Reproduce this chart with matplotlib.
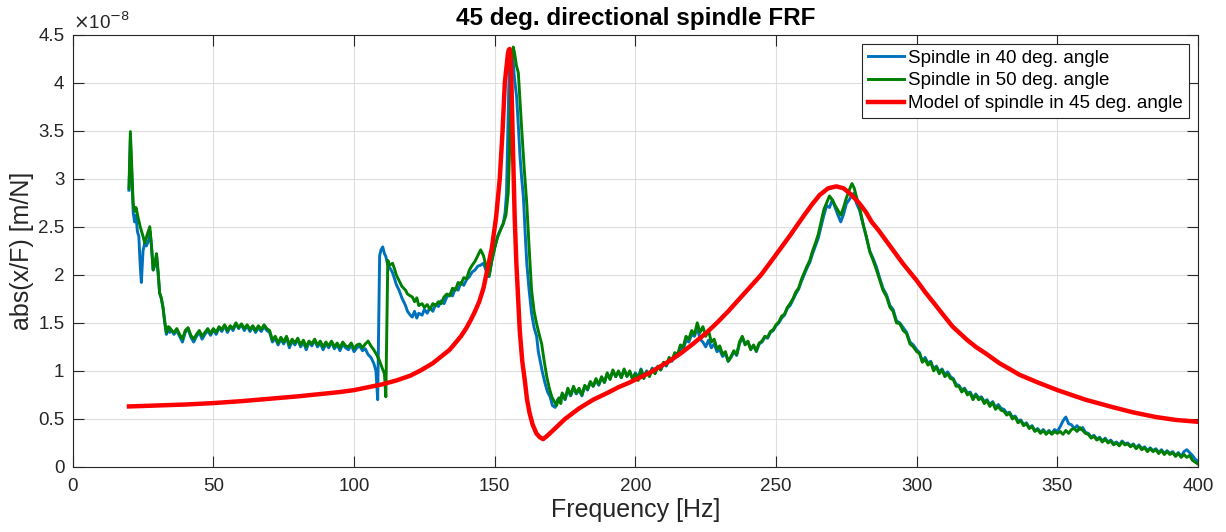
import numpy as np
import matplotlib
matplotlib.use("Agg")
import matplotlib.pyplot as plt
from matplotlib.ticker import FuncFormatter, MultipleLocator

plt.rcParams['font.family'] = ['Liberation Sans', 'DejaVu Sans']

# magnitudes below are in units of 1e-8 m/N (the axis carries the x10^-8 factor)

# spindle measured in 40 deg. angle
freq_40 = ([20, 20.5, 21, 21.5, 22, 22.5, 23, 23.5, 24, 24.4, 25, 25.6, 26.2, 27,
            27.5, 28, 28.6, 29.2, 29.8, 30.4, 30.9, 31.5, 32.1, 32.7, 33.3, 34, 34.5, 35]
           + list(range(36, 108))
           + [107.8, 108.4, 108.8, 109.1, 109.6, 110.2, 110.8, 111.3, 112, 113, 113.7,
              114.5, 115, 116, 117, 118.3, 119, 120, 120.7, 121.5, 122.3, 123, 124.2]
           + list(range(125, 149))
           + [149, 150, 151, 152, 153, 153.7, 154.2, 154.6, 155, 155.4, 156, 156.5, 157,
              157.8, 158.4, 159, 159.6, 160.2, 160.8, 161.4, 162.2, 163.1, 164, 164.9,
              165.5, 166.1, 167, 167.9, 168.8, 169.7, 170.5, 171.5, 172.3, 173]
           + list(range(174, 278))
           + [277.8, 278.5, 279.7, 281, 282.1, 283.3, 284.5, 285.7, 286.9, 288, 289.3,
              290.5, 291.6, 292.8, 294, 295.2, 296.4, 297.6, 298.8]
           + list(range(300, 401)))
mag_40 = [2.88, 3.40, 3.05, 2.65, 2.55, 2.62, 2.45, 2.40, 2.10, 1.92, 2.25, 2.33, 2.30, 2.36,
          2.45, 2.30, 2.05, 2.10, 2.20, 2.00, 1.81, 1.75, 1.66, 1.50, 1.38, 1.44, 1.40, 1.43,
          # 36 .. 107
          1.38, 1.42, 1.36, 1.30, 1.40, 1.44, 1.35, 1.30, 1.36, 1.40,
          1.33, 1.38, 1.42, 1.37, 1.43, 1.38, 1.45, 1.41, 1.47, 1.40,
          1.46, 1.42, 1.49, 1.44, 1.48, 1.42, 1.47, 1.41, 1.46, 1.40,
          1.45, 1.41, 1.46, 1.42, 1.40, 1.30, 1.34, 1.27, 1.33, 1.28,
          1.35, 1.24, 1.31, 1.27, 1.33, 1.25, 1.30, 1.22, 1.30, 1.26,
          1.32, 1.25, 1.29, 1.22, 1.28, 1.24, 1.30, 1.23, 1.27, 1.21,
          1.28, 1.24, 1.22, 1.27, 1.20, 1.24, 1.26, 1.21, 1.23, 1.17,
          1.14, 1.08,
          # jump near 109 Hz
          1.00, 0.70, 1.60, 2.20, 2.26, 2.29, 2.22, 2.19, 2.10, 2.06, 2.02,
          1.95, 1.90, 1.84, 1.76, 1.68, 1.62, 1.58, 1.56, 1.62, 1.55, 1.60, 1.58,
          # 125 .. 148
          1.64, 1.60, 1.66, 1.62, 1.69, 1.67, 1.73, 1.70, 1.77, 1.80, 1.78, 1.86,
          1.84, 1.92, 1.89, 1.95, 1.98, 2.03, 2.05, 2.09, 2.10, 2.12, 2.04, 1.98,
          # main peak
          2.15, 2.28, 2.40, 2.47, 2.53, 2.65, 2.85, 3.40, 3.95, 4.25, 4.34, 4.25, 4.05,
          3.85, 3.55, 3.23, 3.00, 2.81, 2.45, 2.12, 1.85, 1.60, 1.45, 1.36,
          1.20, 1.11, 0.98, 0.87, 0.78, 0.73, 0.64, 0.62, 0.70, 0.68,
          # 174 .. 277
          0.76, 0.70, 0.80, 0.74, 0.82, 0.76, 0.80, 0.74, 0.84, 0.80,
          0.88, 0.84, 0.90, 0.85, 0.93, 0.88, 0.97, 0.92, 1.00, 0.94,
          0.99, 0.93, 1.01, 0.95, 0.99, 0.92, 0.98, 0.93, 1.02, 0.94,
          1.00, 0.96, 1.03, 0.98, 1.04, 1.01, 1.08, 1.05, 1.12, 1.10,
          1.17, 1.15, 1.24, 1.22, 1.32, 1.30, 1.38, 1.36, 1.45, 1.33,
          1.30, 1.25, 1.32, 1.24, 1.28, 1.20, 1.22, 1.15, 1.18, 1.10,
          1.14, 1.20, 1.16, 1.28, 1.35, 1.28, 1.30, 1.23, 1.26, 1.20,
          1.28, 1.30, 1.35, 1.34, 1.40, 1.42, 1.47, 1.50, 1.55, 1.58,
          1.65, 1.68, 1.74, 1.80, 1.85, 1.93, 2.00, 2.07, 2.13, 2.22,
          2.30, 2.38, 2.50, 2.62, 2.72, 2.70, 2.78, 2.70, 2.62, 2.55,
          2.63, 2.74, 2.78, 2.83,
          # second peak decay
          2.85, 2.75, 2.67, 2.52, 2.39, 2.25, 2.17, 2.08, 1.96, 1.86, 1.79,
          1.68, 1.64, 1.52, 1.50, 1.45, 1.40, 1.30, 1.27,
          # 300 .. 400
          1.22, 1.19, 1.10, 1.14, 1.08, 1.10, 1.02, 1.05, 0.99, 1.02,
          0.96, 0.99, 0.94, 0.92, 0.86, 0.85, 0.80, 0.82, 0.77, 0.78,
          0.72, 0.76, 0.72, 0.73, 0.68, 0.70, 0.65, 0.68, 0.62, 0.65,
          0.61, 0.60, 0.56, 0.57, 0.52, 0.53, 0.48, 0.49, 0.44, 0.46,
          0.41, 0.43, 0.38, 0.40, 0.36, 0.39, 0.35, 0.38, 0.35, 0.39,
          0.37, 0.42, 0.48, 0.52, 0.45, 0.44, 0.40, 0.43, 0.39, 0.41,
          0.36, 0.35, 0.31, 0.33, 0.29, 0.31, 0.27, 0.30, 0.26, 0.28,
          0.24, 0.26, 0.23, 0.27, 0.24, 0.25, 0.22, 0.24, 0.20, 0.23,
          0.19, 0.21, 0.17, 0.20, 0.17, 0.19, 0.15, 0.18, 0.14, 0.17,
          0.14, 0.16, 0.12, 0.15, 0.11, 0.16, 0.18, 0.15, 0.12, 0.08,
          0.06]

# spindle measured in 50 deg. angle
freq_50 = ([20, 20.5, 21, 21.5, 22, 22.5, 23.2, 24, 24.4, 25, 25.6, 26.5, 27.4, 28,
            28.6, 29.2, 29.8, 30.4, 30.9, 31.5, 32.1, 32.7, 33.3, 34, 34.5, 35]
           + list(range(36, 110))
           + [110, 110.8, 111.3, 111.7, 112, 112.6, 113.7, 114.5, 115, 116, 117, 118.3,
              119, 120, 120.7, 121.5, 122.3, 123, 124.2]
           + list(range(125, 149))
           + [149, 150, 151, 152, 153, 154, 154.8, 155.3, 155.7, 156.1, 156.6, 157.1,
              157.7, 158.4, 159, 159.6, 160.5, 161.4, 162.2, 163.1, 164, 164.9, 165.8,
              166.7, 167.6, 168.5, 169.4, 170.3, 171.2, 172, 172.8, 173.5]
           + list(range(174, 278))
           + [277.8, 278.5, 279.7, 281, 282.1, 283.3, 284.5, 285.7, 286.9, 288, 289.3,
              290.5, 291.6, 292.8, 294, 295.2, 296.4, 297.6, 298.8]
           + list(range(300, 401)))
mag_50 = [2.90, 3.49, 3.10, 2.74, 2.66, 2.70, 2.60, 2.50, 2.46, 2.40, 2.33, 2.42, 2.50, 2.30,
          2.05, 2.12, 2.22, 2.02, 1.81, 1.76, 1.66, 1.52, 1.40, 1.46, 1.45, 1.42,
          # 36 .. 109
          1.40, 1.44, 1.38, 1.33, 1.42, 1.45, 1.37, 1.33, 1.38, 1.42,
          1.36, 1.40, 1.44, 1.39, 1.44, 1.40, 1.46, 1.43, 1.48, 1.42,
          1.47, 1.44, 1.50, 1.45, 1.49, 1.44, 1.48, 1.43, 1.47, 1.42,
          1.47, 1.43, 1.48, 1.44, 1.42, 1.32, 1.36, 1.29, 1.35, 1.30,
          1.36, 1.27, 1.33, 1.29, 1.34, 1.27, 1.32, 1.25, 1.31, 1.28,
          1.33, 1.27, 1.31, 1.25, 1.30, 1.26, 1.31, 1.25, 1.29, 1.24,
          1.30, 1.26, 1.25, 1.29, 1.23, 1.27, 1.28, 1.24, 1.28, 1.31,
          1.26, 1.22, 1.17, 1.11,
          # jump near 111 Hz
          1.03, 0.97, 0.73, 1.50, 2.15, 2.10, 2.12, 2.05, 2.00, 1.94, 1.88, 1.84,
          1.80, 1.78, 1.77, 1.72, 1.76, 1.68, 1.70,
          # 125 .. 148
          1.66, 1.69, 1.64, 1.70, 1.68, 1.72, 1.70, 1.77, 1.80, 1.78, 1.86, 1.84,
          1.92, 1.90, 1.97, 1.96, 2.05, 2.10, 2.14, 2.20, 2.26, 2.20, 2.08, 1.99,
          # main peak
          2.15, 2.28, 2.39, 2.46, 2.53, 2.62, 2.85, 3.30, 3.90, 4.25, 4.37, 4.30,
          4.18, 4.10, 3.80, 3.51, 3.10, 2.74, 2.30, 1.84, 1.62, 1.49, 1.38,
          1.28, 1.10, 0.94, 0.82, 0.73, 0.68, 0.64, 0.72, 0.66,
          # 174 .. 277
          0.77, 0.71, 0.82, 0.75, 0.84, 0.77, 0.82, 0.75, 0.85, 0.81,
          0.89, 0.84, 0.92, 0.86, 0.94, 0.88, 0.98, 0.91, 1.01, 0.94,
          1.00, 0.93, 1.02, 0.94, 1.00, 0.91, 0.97, 0.90, 1.01, 0.92,
          0.99, 0.94, 1.02, 0.97, 1.05, 1.01, 1.09, 1.06, 1.14, 1.11,
          1.19, 1.17, 1.27, 1.25, 1.36, 1.33, 1.42, 1.38, 1.50, 1.40,
          1.46, 1.36, 1.42, 1.30, 1.33, 1.23, 1.26, 1.17, 1.20, 1.10,
          1.15, 1.21, 1.17, 1.30, 1.36, 1.27, 1.31, 1.22, 1.27, 1.21,
          1.29, 1.31, 1.36, 1.35, 1.41, 1.43, 1.48, 1.51, 1.57, 1.59,
          1.66, 1.70, 1.75, 1.82, 1.86, 1.95, 2.02, 2.09, 2.15, 2.25,
          2.33, 2.42, 2.55, 2.68, 2.75, 2.82, 2.78, 2.72, 2.67, 2.62,
          2.70, 2.80, 2.88, 2.95,
          # second peak decay
          2.90, 2.82, 2.70, 2.52, 2.40, 2.24, 2.15, 2.05, 1.94, 1.84, 1.77,
          1.66, 1.62, 1.50, 1.49, 1.42, 1.39, 1.28, 1.25,
          # 300 .. 400
          1.20, 1.18, 1.09, 1.12, 1.06, 1.09, 1.00, 1.04, 0.97, 1.01,
          0.94, 0.97, 0.92, 0.91, 0.84, 0.84, 0.78, 0.81, 0.75, 0.77,
          0.70, 0.75, 0.70, 0.72, 0.66, 0.69, 0.63, 0.67, 0.60, 0.63,
          0.59, 0.58, 0.54, 0.56, 0.50, 0.52, 0.46, 0.48, 0.43, 0.45,
          0.40, 0.42, 0.37, 0.39, 0.35, 0.38, 0.34, 0.37, 0.34, 0.37,
          0.35, 0.37, 0.34, 0.38, 0.35, 0.39, 0.40, 0.37, 0.41, 0.38,
          0.35, 0.34, 0.30, 0.32, 0.28, 0.30, 0.26, 0.29, 0.25, 0.27,
          0.23, 0.25, 0.22, 0.26, 0.23, 0.24, 0.21, 0.23, 0.19, 0.22,
          0.18, 0.20, 0.16, 0.19, 0.16, 0.18, 0.14, 0.17, 0.13, 0.16,
          0.13, 0.15, 0.11, 0.14, 0.10, 0.13, 0.10, 0.12, 0.07, 0.05,
          0.03]

# model of spindle in 45 deg. angle
freq_model = [20, 30, 40, 50, 60, 70, 80, 90, 95, 100,
              105, 110, 115, 120, 124, 128, 131, 134, 136, 138,
              140, 141.5, 143, 144.5, 146, 147.5, 149, 150.5, 151.8, 152.8,
              153.6, 154.7, 155.0, 155.3, 155.6, 155.9, 156.5, 157.1, 157.7, 158.9,
              159.8, 160.7, 161.5, 162.4, 163.5, 164.8, 166, 167.2, 168.5, 170.7,
              175, 180, 185, 190, 194, 198, 205, 212, 216, 220,
              225, 229, 233, 237, 241, 244.7, 248, 251, 255, 260,
              263, 265.5, 268.5, 271.4, 274, 276.5, 279.7, 282, 284, 286.5,
              289, 292, 295, 300, 303, 306, 309.5, 312.8, 318, 321,
              324.6, 329.4, 333, 336.5, 343, 350, 355, 360, 365, 370,
              376.7, 380, 385, 392, 400]
mag_model = [0.63, 0.64, 0.65, 0.665, 0.685, 0.71, 0.735, 0.765, 0.78, 0.80,
             0.83, 0.86, 0.90, 0.95, 1.01, 1.08, 1.15, 1.22, 1.29, 1.36,
             1.45, 1.53, 1.62, 1.72, 1.86, 2.07, 2.28, 2.60, 3.00, 3.50,
             4.00, 4.30, 4.34, 4.35, 4.28, 4.05, 3.30, 2.60, 2.12, 1.42,
             1.10, 0.90, 0.70, 0.56, 0.44, 0.35, 0.31, 0.29, 0.32, 0.38,
             0.50, 0.61, 0.70, 0.77, 0.83, 0.88, 0.98, 1.10, 1.18, 1.27,
             1.39, 1.50, 1.62, 1.75, 1.88, 2.00, 2.13, 2.25, 2.41, 2.62,
             2.74, 2.83, 2.90, 2.92, 2.90, 2.84, 2.74, 2.65, 2.55, 2.46,
             2.36, 2.24, 2.12, 1.94, 1.82, 1.71, 1.58, 1.46, 1.32, 1.25,
             1.18, 1.08, 1.02, 0.96, 0.88, 0.80, 0.75, 0.70, 0.66, 0.62,
             0.57, 0.55, 0.52, 0.49, 0.47]

labels = ['Spindle in 40 deg. angle', 'Spindle in 50 deg. angle',
          'Model of spindle in 45 deg. angle']

ink = '#262626'

fig = plt.figure(figsize=(12.26, 5.32), dpi=100, facecolor='white')
ax = fig.add_axes([0.0593, 0.1222, 0.9179, 0.8129])

ax.plot(freq_40, mag_40, color='#0072BD', lw=2.1, label=labels[0])
ax.plot(freq_50, mag_50, color='#008000', lw=2.1, label=labels[1])
ax.plot(freq_model, mag_model, color='#FF0000', lw=3.2, label=labels[2],
        solid_joinstyle='round')

ax.set_xlim(0, 400)
ax.set_ylim(0, 4.5)
ax.xaxis.set_major_locator(MultipleLocator(50))
ax.yaxis.set_major_locator(MultipleLocator(0.5))
ax.yaxis.set_major_formatter(FuncFormatter(lambda v, p: '%g' % v))

ax.grid(True, color='#dedede', lw=0.8)
ax.set_axisbelow(True)
for s in ax.spines.values():
    s.set_color(ink)
    s.set_linewidth(0.8)
ax.tick_params(direction='in', top=True, right=True, length=8, width=0.8,
               colors=ink, labelsize=13.5)
ax.tick_params(axis='x', pad=8)
ax.tick_params(axis='y', pad=6)

ax.text(0.0, 1.004, r'$\times$10$^{-8}$', transform=ax.transAxes,
        fontsize=13.5, color=ink, ha='left', va='bottom')

ax.set_title('45 deg. directional spindle FRF', fontsize=17.5, fontweight='bold',
             color='black', pad=7)
ax.set_xlabel('Frequency [Hz]', fontsize=18, color=ink, labelpad=2)
ax.set_ylabel('abs(x/F) [m/N]', fontsize=18, color=ink, labelpad=3)

leg = ax.legend(loc='upper right', fontsize=13.5, frameon=True, fancybox=False,
                framealpha=1, edgecolor=ink, handlelength=1.9, handletextpad=0.25,
                labelspacing=0.3, borderpad=0.3, borderaxespad=0.5)
leg.get_frame().set_linewidth(0.8)

fig.savefig('out.png', dpi=100)
